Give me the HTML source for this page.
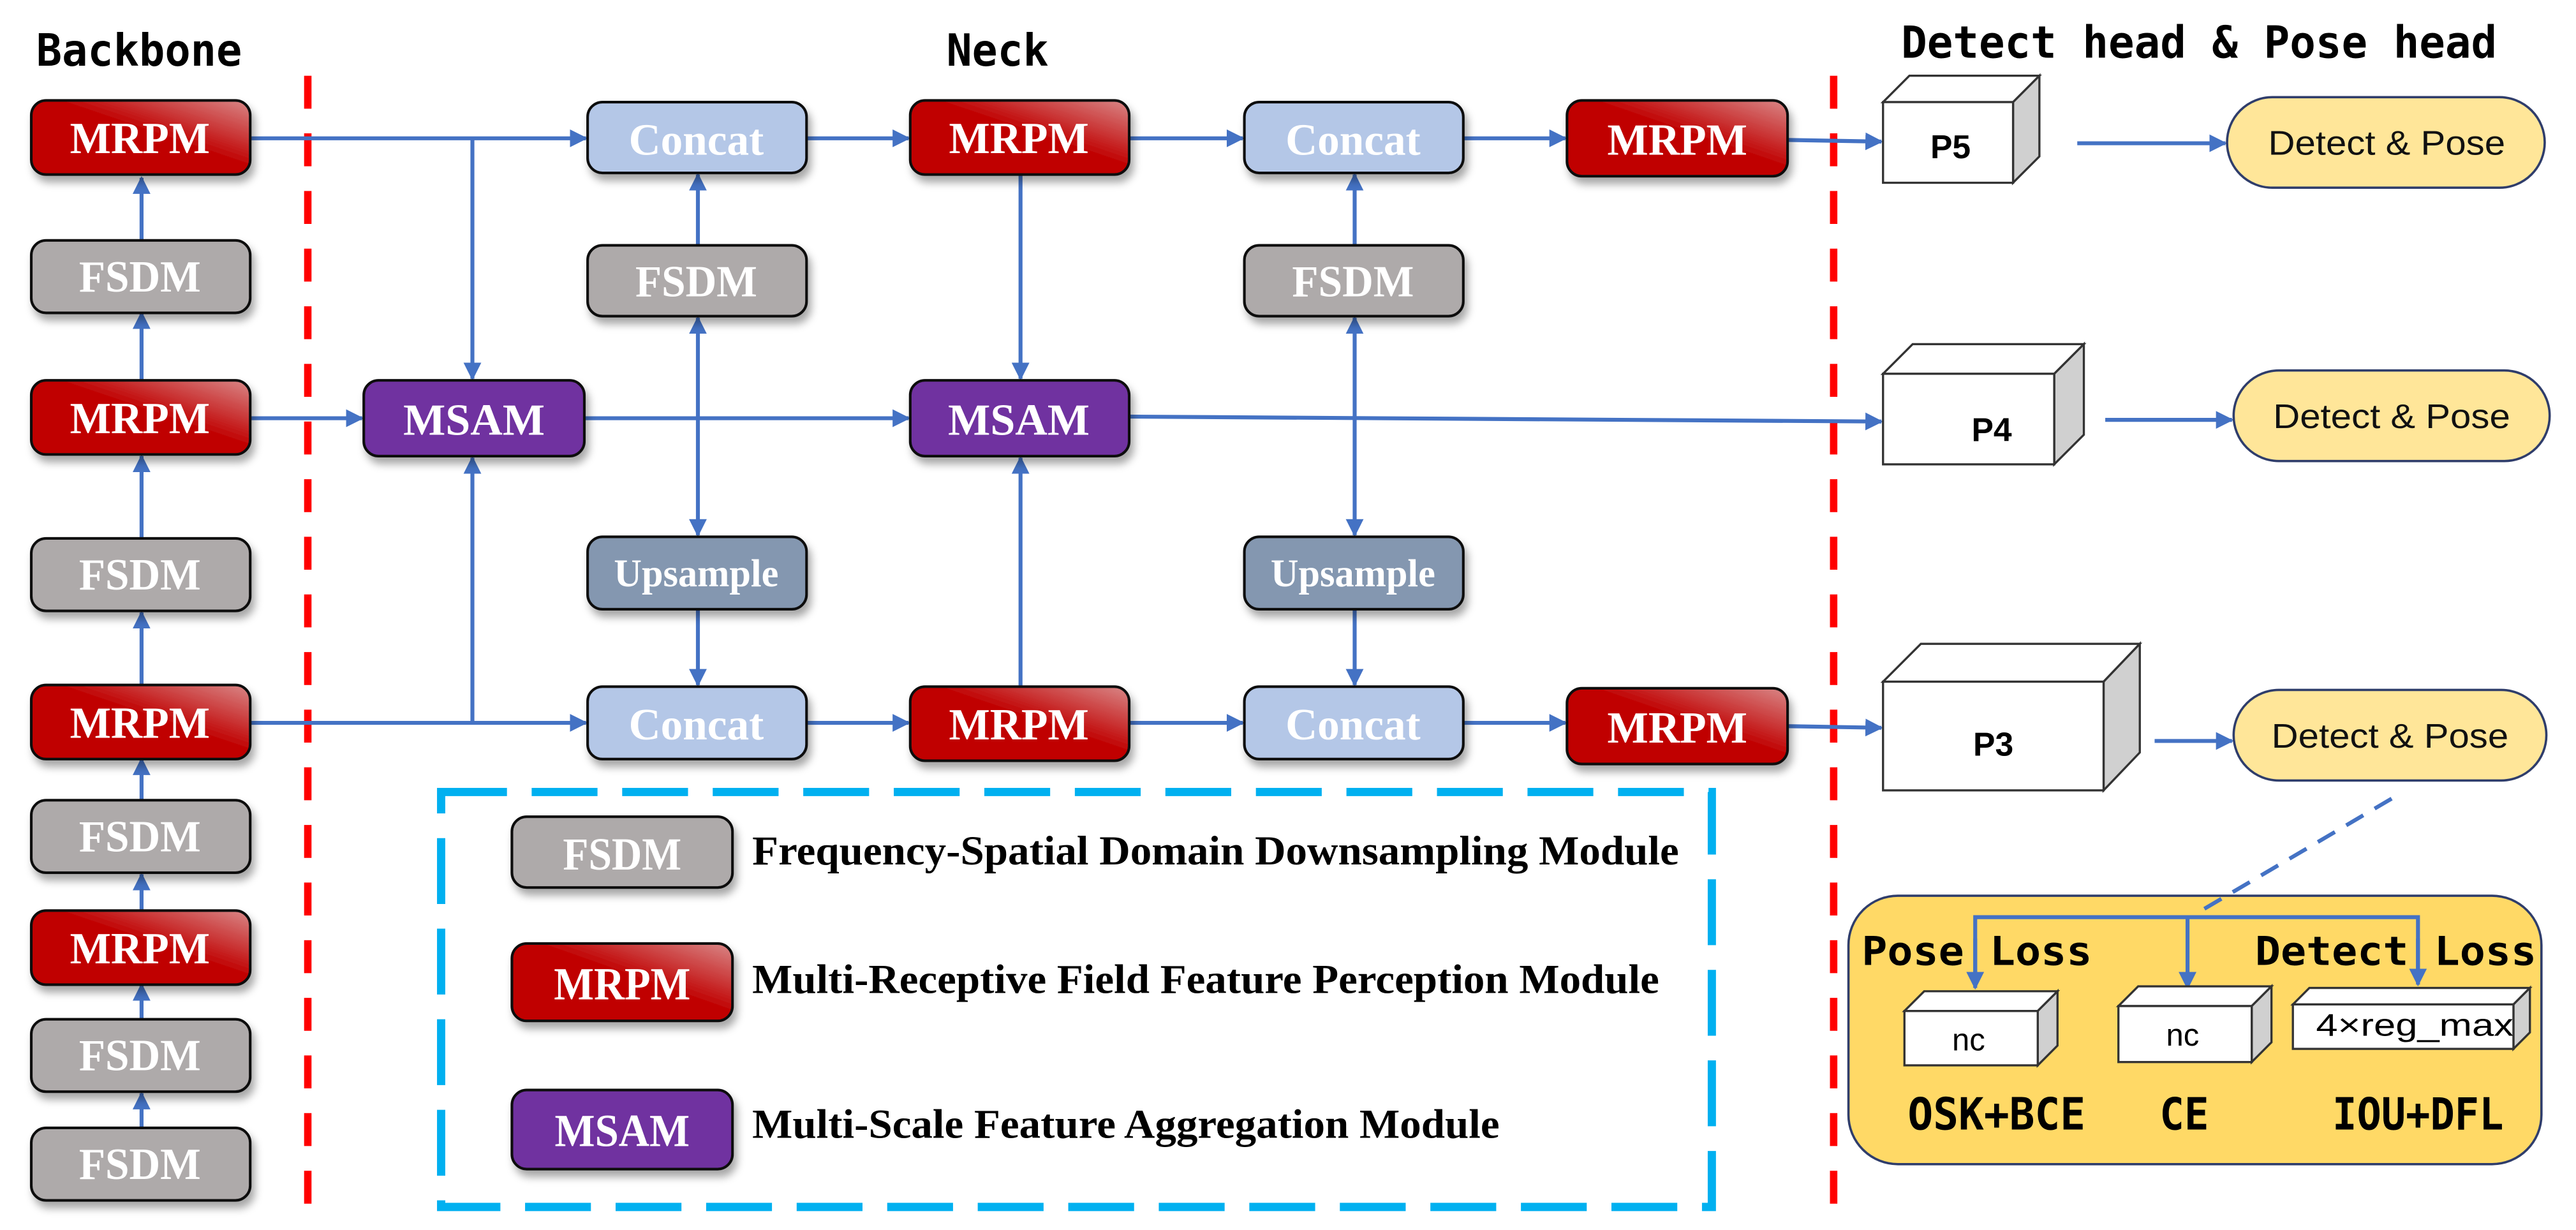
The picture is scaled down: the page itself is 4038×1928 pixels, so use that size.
<!DOCTYPE html>
<html><head><meta charset="utf-8"><style>html,body{margin:0;padding:0;background:#fff}svg{display:block}</style></head>
<body>
<svg xmlns="http://www.w3.org/2000/svg" width="4038" height="1928" viewBox="0 0 1565 747" preserveAspectRatio="none">
<defs>
<linearGradient id="red" x1="0" y1="1" x2="1" y2="0">
<stop offset="0" stop-color="#c00000"/><stop offset="0.55" stop-color="#c00000"/><stop offset="1" stop-color="#d98888"/>
</linearGradient>
<filter id="sh" x="-10%" y="-10%" width="130%" height="150%"><feDropShadow dx="2" dy="4" stdDeviation="2.5" flood-opacity="0.35"/></filter>
<marker id="ah" viewBox="0 0 10 10" refX="9" refY="5" markerWidth="4.5" markerHeight="4.5" orient="auto-start-reverse"><path d="M0,0 L10,5 L0,10 z" fill="#4472c4"/></marker>
</defs>
<style>
.bx{stroke:#111;stroke-width:1.6;filter:url(#sh)}
.bt{font-family:"Liberation Serif",serif;font-weight:bold;fill:#fff;text-anchor:middle}
.ln{stroke:#4472c4;stroke-width:2.4;fill:none}
.ar{stroke:#4472c4;stroke-width:2.4;fill:none;marker-end:url(#ah)}
.ar2{stroke:#4472c4;stroke-width:2.4;fill:none;marker-end:url(#ah);marker-start:url(#ah)}
.hd{font-family:"DejaVu Sans Mono","Liberation Mono",monospace;font-weight:bold;fill:#000}
.lg{font-family:"Liberation Serif",serif;font-weight:bold;fill:#000}
.cu{fill:#fff;stroke:#333;stroke-width:1.3}
.cs{fill:#d0d0d0;stroke:#333;stroke-width:1.3}
.pl{font-family:"Liberation Sans",sans-serif;fill:#111;text-anchor:middle}
</style>

<text class="hd" x="22" y="40" font-size="27" textLength="125" lengthAdjust="spacingAndGlyphs">Backbone</text>
<text class="hd" x="575" y="40" font-size="27" textLength="62" lengthAdjust="spacingAndGlyphs">Neck</text>
<text class="hd" x="1155" y="35" font-size="27" textLength="362" lengthAdjust="spacingAndGlyphs">Detect head &amp; Pose head</text>

<line x1="187" y1="46" x2="187" y2="735" stroke="#ff0000" stroke-width="4.5" stroke-dasharray="20 15"/>
<line x1="1114" y1="46" x2="1114" y2="735" stroke="#ff0000" stroke-width="4.5" stroke-dasharray="20 15"/>

<line class="ar" x1="86" y1="146" x2="86" y2="108"/>
<line class="ar" x1="86" y1="231" x2="86" y2="190"/>
<line class="ar" x1="86" y1="327" x2="86" y2="277"/>
<line class="ar" x1="86" y1="416" x2="86" y2="372"/>
<line class="ar" x1="86" y1="486" x2="86" y2="461"/>
<line class="ar" x1="86" y1="553" x2="86" y2="531"/>
<line class="ar" x1="86" y1="619" x2="86" y2="598"/>
<line class="ar" x1="86" y1="685" x2="86" y2="664"/>

<line class="ar" x1="152" y1="84" x2="356" y2="84"/>
<line class="ar" x1="287" y1="84" x2="287" y2="230"/>
<line class="ar" x1="152" y1="254" x2="220" y2="254"/>
<line class="ar" x1="152" y1="439" x2="356" y2="439"/>
<line class="ar" x1="287" y1="439" x2="287" y2="278"/>

<line class="ar" x1="424" y1="149" x2="424" y2="106"/>
<line class="ar2" x1="424" y1="193" x2="424" y2="325"/>
<line class="ar" x1="424" y1="370" x2="424" y2="416"/>
<line class="ar" x1="355" y1="254" x2="552" y2="254"/>
<line class="ar" x1="490" y1="84" x2="552" y2="84"/>
<line class="ar" x1="490" y1="439" x2="552" y2="439"/>
<line class="ar" x1="620" y1="106" x2="620" y2="230"/>
<line class="ar" x1="620" y1="417" x2="620" y2="278"/>
<line class="ar" x1="686" y1="84" x2="755" y2="84"/>
<line class="ar" x1="686" y1="439" x2="755" y2="439"/>

<line class="ar" x1="823" y1="149" x2="823" y2="106"/>
<line class="ar2" x1="823" y1="193" x2="823" y2="325"/>
<line class="ar" x1="823" y1="370" x2="823" y2="416"/>
<line class="ar" x1="889" y1="84" x2="951" y2="84"/>
<line class="ar" x1="889" y1="439" x2="951" y2="439"/>
<line class="ar" x1="686" y1="253" x2="1143" y2="256"/>
<line class="ar" x1="1086" y1="85" x2="1143" y2="86"/>
<line class="ar" x1="1086" y1="441" x2="1143" y2="442"/>

<line class="ar" x1="1262" y1="87" x2="1352" y2="87"/>
<line class="ar" x1="1279" y1="255" x2="1356" y2="255"/>
<line class="ar" x1="1309" y1="450" x2="1356" y2="450"/>

<g>
<rect class="bx" x="19" y="61" width="133" height="45" rx="9" fill="url(#red)"/><text class="bt" x="85" y="93" font-size="27" textLength="85" lengthAdjust="spacingAndGlyphs">MRPM</text>
<rect class="bx" x="19" y="146" width="133" height="44" rx="9" fill="#aeaaaa"/><text class="bt" x="85" y="177" font-size="27" textLength="74" lengthAdjust="spacingAndGlyphs">FSDM</text>
<rect class="bx" x="19" y="231" width="133" height="45" rx="9" fill="url(#red)"/><text class="bt" x="85" y="263" font-size="27" textLength="85" lengthAdjust="spacingAndGlyphs">MRPM</text>
<rect class="bx" x="19" y="327" width="133" height="44" rx="9" fill="#aeaaaa"/><text class="bt" x="85" y="358" font-size="27" textLength="74" lengthAdjust="spacingAndGlyphs">FSDM</text>
<rect class="bx" x="19" y="416" width="133" height="45" rx="9" fill="url(#red)"/><text class="bt" x="85" y="448" font-size="27" textLength="85" lengthAdjust="spacingAndGlyphs">MRPM</text>
<rect class="bx" x="19" y="486" width="133" height="44" rx="9" fill="#aeaaaa"/><text class="bt" x="85" y="517" font-size="27" textLength="74" lengthAdjust="spacingAndGlyphs">FSDM</text>
<rect class="bx" x="19" y="553" width="133" height="45" rx="9" fill="url(#red)"/><text class="bt" x="85" y="585" font-size="27" textLength="85" lengthAdjust="spacingAndGlyphs">MRPM</text>
<rect class="bx" x="19" y="619" width="133" height="44" rx="9" fill="#aeaaaa"/><text class="bt" x="85" y="650" font-size="27" textLength="74" lengthAdjust="spacingAndGlyphs">FSDM</text>
<rect class="bx" x="19" y="685" width="133" height="44" rx="9" fill="#aeaaaa"/><text class="bt" x="85" y="716" font-size="27" textLength="74" lengthAdjust="spacingAndGlyphs">FSDM</text>
</g>

<rect class="bx" x="221" y="231" width="134" height="46" rx="9" fill="#7030a0"/><text class="bt" x="288" y="264" font-size="27" textLength="86" lengthAdjust="spacingAndGlyphs">MSAM</text>

<rect class="bx" x="357" y="62" width="133" height="43" rx="9" fill="#b4c7e7"/><text class="bt" x="423" y="94" font-size="27" textLength="82" lengthAdjust="spacingAndGlyphs">Concat</text>
<rect class="bx" x="357" y="149" width="133" height="43" rx="9" fill="#aeaaaa"/><text class="bt" x="423" y="180" font-size="27" textLength="74" lengthAdjust="spacingAndGlyphs">FSDM</text>
<rect class="bx" x="357" y="326" width="133" height="44" rx="9" fill="#8497b0"/><text class="bt" x="423" y="356" font-size="24" textLength="100" lengthAdjust="spacingAndGlyphs">Upsample</text>
<rect class="bx" x="357" y="417" width="133" height="44" rx="9" fill="#b4c7e7"/><text class="bt" x="423" y="449" font-size="27" textLength="82" lengthAdjust="spacingAndGlyphs">Concat</text>

<rect class="bx" x="553" y="61" width="133" height="45" rx="9" fill="url(#red)"/><text class="bt" x="619" y="93" font-size="27" textLength="85" lengthAdjust="spacingAndGlyphs">MRPM</text>
<rect class="bx" x="553" y="231" width="133" height="46" rx="9" fill="#7030a0"/><text class="bt" x="619" y="264" font-size="27" textLength="86" lengthAdjust="spacingAndGlyphs">MSAM</text>
<rect class="bx" x="553" y="417" width="133" height="45" rx="9" fill="url(#red)"/><text class="bt" x="619" y="449" font-size="27" textLength="85" lengthAdjust="spacingAndGlyphs">MRPM</text>

<rect class="bx" x="756" y="62" width="133" height="43" rx="9" fill="#b4c7e7"/><text class="bt" x="822" y="94" font-size="27" textLength="82" lengthAdjust="spacingAndGlyphs">Concat</text>
<rect class="bx" x="756" y="149" width="133" height="43" rx="9" fill="#aeaaaa"/><text class="bt" x="822" y="180" font-size="27" textLength="74" lengthAdjust="spacingAndGlyphs">FSDM</text>
<rect class="bx" x="756" y="326" width="133" height="44" rx="9" fill="#8497b0"/><text class="bt" x="822" y="356" font-size="24" textLength="100" lengthAdjust="spacingAndGlyphs">Upsample</text>
<rect class="bx" x="756" y="417" width="133" height="44" rx="9" fill="#b4c7e7"/><text class="bt" x="822" y="449" font-size="27" textLength="82" lengthAdjust="spacingAndGlyphs">Concat</text>

<rect class="bx" x="952" y="61" width="134" height="46" rx="9" fill="url(#red)"/><text class="bt" x="1019" y="94" font-size="27" textLength="85" lengthAdjust="spacingAndGlyphs">MRPM</text>
<rect class="bx" x="952" y="418" width="134" height="46" rx="9" fill="url(#red)"/><text class="bt" x="1019" y="451" font-size="27" textLength="85" lengthAdjust="spacingAndGlyphs">MRPM</text>

<g>
<polygon class="cu" points="1144,62 1160,46 1239,46 1223,62"/>
<polygon class="cs" points="1223,62 1239,46 1239,95 1223,111"/>
<rect class="cu" x="1144" y="62" width="79" height="49"/>
<text x="1185" y="96" font-family="Liberation Sans,sans-serif" font-weight="bold" font-size="20" text-anchor="middle">P5</text>

<polygon class="cu" points="1144,227 1162,209 1266,209 1248,227"/>
<polygon class="cs" points="1248,227 1266,209 1266,264 1248,282"/>
<rect class="cu" x="1144" y="227" width="104" height="55"/>
<text x="1210" y="268" font-family="Liberation Sans,sans-serif" font-weight="bold" font-size="20" text-anchor="middle">P4</text>

<polygon class="cu" points="1144,414 1167,391 1300,391 1278,414"/>
<polygon class="cs" points="1278,414 1300,391 1300,457 1278,480"/>
<rect class="cu" x="1144" y="414" width="134" height="66"/>
<text x="1211" y="459" font-family="Liberation Sans,sans-serif" font-weight="bold" font-size="20" text-anchor="middle">P3</text>
</g>

<rect x="1353" y="59" width="193" height="55" rx="27.5" fill="#ffe699" stroke="#2f3d6b" stroke-width="1.4"/>
<text class="pl" x="1450" y="94" font-size="21" textLength="144" lengthAdjust="spacingAndGlyphs">Detect &amp; Pose</text>
<rect x="1357" y="225" width="192" height="55" rx="27.5" fill="#ffe699" stroke="#2f3d6b" stroke-width="1.4"/>
<text class="pl" x="1453" y="260" font-size="21" textLength="144" lengthAdjust="spacingAndGlyphs">Detect &amp; Pose</text>
<rect x="1357" y="419" width="190" height="55" rx="27.5" fill="#ffe699" stroke="#2f3d6b" stroke-width="1.4"/>
<text class="pl" x="1452" y="454" font-size="21" textLength="144" lengthAdjust="spacingAndGlyphs">Detect &amp; Pose</text>

<rect x="1123" y="544" width="421" height="163" rx="30" fill="#ffd966" stroke="#2f3d6b" stroke-width="1.4"/>
<line x1="1453" y1="485" x2="1334" y2="555" stroke="#4472c4" stroke-width="2.4" stroke-dasharray="12 8"/>
<polyline class="ln" points="1200,598 1200,557 1469,557 1469,596"/>
<line class="ar" x1="1200" y1="570" x2="1200" y2="600"/>
<line class="ar" x1="1329" y1="557" x2="1329" y2="600"/>
<line class="ar" x1="1469" y1="570" x2="1469" y2="598"/>

<text class="hd" x="1131" y="586" font-size="24" textLength="140" lengthAdjust="spacingAndGlyphs">Pose Loss</text>
<text class="hd" x="1370" y="586" font-size="24" textLength="171" lengthAdjust="spacingAndGlyphs">Detect Loss</text>

<polygon class="cu" points="1157,614 1169,602 1250,602 1238,614" stroke="#2f3d6b"/>
<polygon class="cs" points="1238,614 1250,602 1250,635 1238,647" stroke="#2f3d6b"/>
<rect class="cu" x="1157" y="614" width="81" height="33" stroke="#2f3d6b"/>
<text x="1196" y="638" font-family="Liberation Sans,sans-serif" font-size="19" text-anchor="middle">nc</text>

<polygon class="cu" points="1287,611 1299,599 1380,599 1368,611" stroke="#2f3d6b"/>
<polygon class="cs" points="1368,611 1380,599 1380,633 1368,645" stroke="#2f3d6b"/>
<rect class="cu" x="1287" y="611" width="81" height="34" stroke="#2f3d6b"/>
<text x="1326" y="635" font-family="Liberation Sans,sans-serif" font-size="19" text-anchor="middle">nc</text>

<polygon class="cu" points="1393,610 1403,600 1537,600 1527,610" stroke="#2f3d6b"/>
<polygon class="cs" points="1527,610 1537,600 1537,627 1527,637" stroke="#2f3d6b"/>
<rect class="cu" x="1393" y="610" width="134" height="27" stroke="#2f3d6b"/>
<text x="1407" y="629" font-family="Liberation Sans,sans-serif" font-size="19" textLength="120" lengthAdjust="spacingAndGlyphs">4×reg_max</text>

<text class="hd" x="1159" y="686" font-size="27" textLength="108" lengthAdjust="spacingAndGlyphs">OSK+BCE</text>
<text class="hd" x="1312" y="686" font-size="27" textLength="30" lengthAdjust="spacingAndGlyphs">CE</text>
<text class="hd" x="1417" y="686" font-size="27" textLength="104" lengthAdjust="spacingAndGlyphs">IOU+DFL</text>

<rect x="268" y="481" width="772" height="252" fill="none" stroke="#00b0f0" stroke-width="5" stroke-dasharray="40 15"/>
<rect class="bx" x="311" y="496" width="134" height="43" rx="9" fill="#aeaaaa"/><text class="bt" x="378" y="528" font-size="28" textLength="72" lengthAdjust="spacingAndGlyphs">FSDM</text>
<text class="lg" x="457" y="525" font-size="25" textLength="563" lengthAdjust="spacingAndGlyphs">Frequency-Spatial Domain Downsampling Module</text>
<rect class="bx" x="311" y="573" width="134" height="47" rx="9" fill="url(#red)"/><text class="bt" x="378" y="607" font-size="28" textLength="83" lengthAdjust="spacingAndGlyphs">MRPM</text>
<text class="lg" x="457" y="603" font-size="25" textLength="551" lengthAdjust="spacingAndGlyphs">Multi-Receptive Field Feature Perception Module</text>
<rect class="bx" x="311" y="662" width="134" height="48" rx="9" fill="#7030a0"/><text class="bt" x="378" y="696" font-size="28" textLength="82" lengthAdjust="spacingAndGlyphs">MSAM</text>
<text class="lg" x="457" y="691" font-size="25" textLength="454" lengthAdjust="spacingAndGlyphs">Multi-Scale Feature Aggregation Module</text>
</svg>
</body></html>
